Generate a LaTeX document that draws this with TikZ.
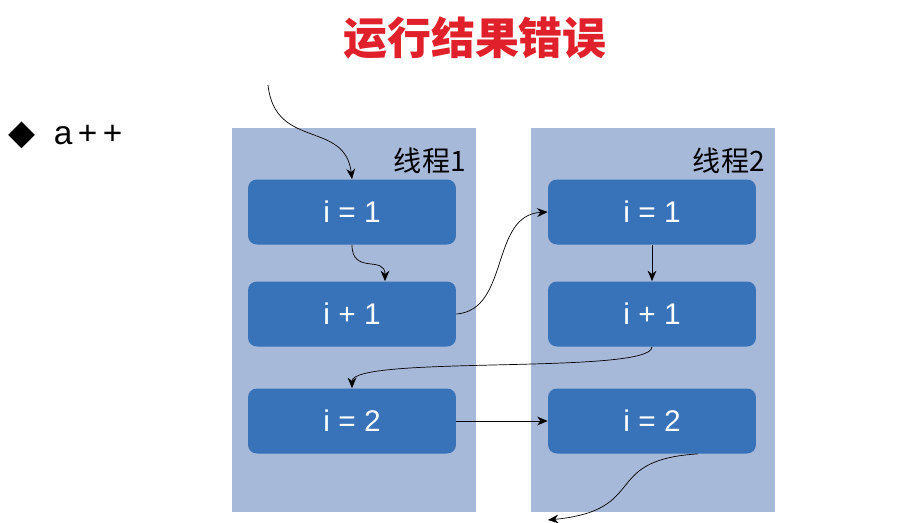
\documentclass[tikz,border=0pt]{standalone}
\usepackage{fontspec}
\setmainfont{Liberation Sans}
\newfontfamily\cjk{Noto Sans CJK SC}
\newfontfamily\symfont{DejaVu Sans}
\usetikzlibrary{arrows.meta}
\definecolor{panelblue}{HTML}{A7B9D9}
\definecolor{boxblue}{HTML}{3872B9}
\definecolor{titlered}{HTML}{E0202A}

\begin{document}
\begin{tikzpicture}
[
  x=0.02cm, y=-0.02cm,
	panel/.style={fill=panelblue,draw=none},
	step box/.style={fill=boxblue,draw=none,rounded corners=5pt,minimum width=4.16cm,minimum height=1.3cm,text=white,font=\fontsize{17}{20}\selectfont},
	flow/.style={->,>={Stealth[length=6pt,width=5pt]},thin}
]
\useasboundingbox (0,0) rectangle (920,522);

\node[font=\cjk\bfseries\fontsize{25}{30}\selectfont,text=titlered] (title) at (475,38) {运行结果错误};
\node[anchor=west,font=\fontsize{19}{24}\selectfont] (bullet) at (2,135) {{\symfont\fontsize{20}{20}\selectfont◆}\ \ a\,+\,+};

% two threads
\draw (232,128) rectangle +(244,384) [panel];
\draw (531,128) rectangle +(244,384) [panel];
\node[anchor=north east,font=\cjk\fontsize{16}{20}\selectfont] (t1) at (472,142) {线程1};
\node[anchor=north east,font=\cjk\fontsize{16}{20}\selectfont] (t2) at (771,142) {线程2};

\node[step box] (a1) at (352,212) {i = 1};
\node[step box] (a2) at (352,314) {i + 1};
\node[step box] (a3) at (352,421) {i = 2};
\node[step box] (b1) at (652,212) {i = 1};
\node[step box] (b2) at (652,314) {i + 1};
\node[step box] (b3) at (652,421) {i = 2};

\coordinate (start) at (268,85);
\coordinate (stop) at (548,520);

\draw[flow] (start) .. controls (275,150) and (345,120) .. (a1.north);
\draw[flow] (a1.south) .. controls (352,275) and (385,255) .. (a2.north -| 385,0);
\draw[flow] (a2.east) .. controls (510,310) and (490,215) .. (b1.west);
\draw[flow] (b1.south) -- (b2.north);
\draw[flow] (b2.south) .. controls (652,375) and (352,355) .. (a3.north);
\draw[flow] (a3.east) -- (b3.west);
\draw[flow] (b3.south -| 698,0) .. controls (600,460) and (650,510) .. (stop);

\end{tikzpicture}
\end{document}
